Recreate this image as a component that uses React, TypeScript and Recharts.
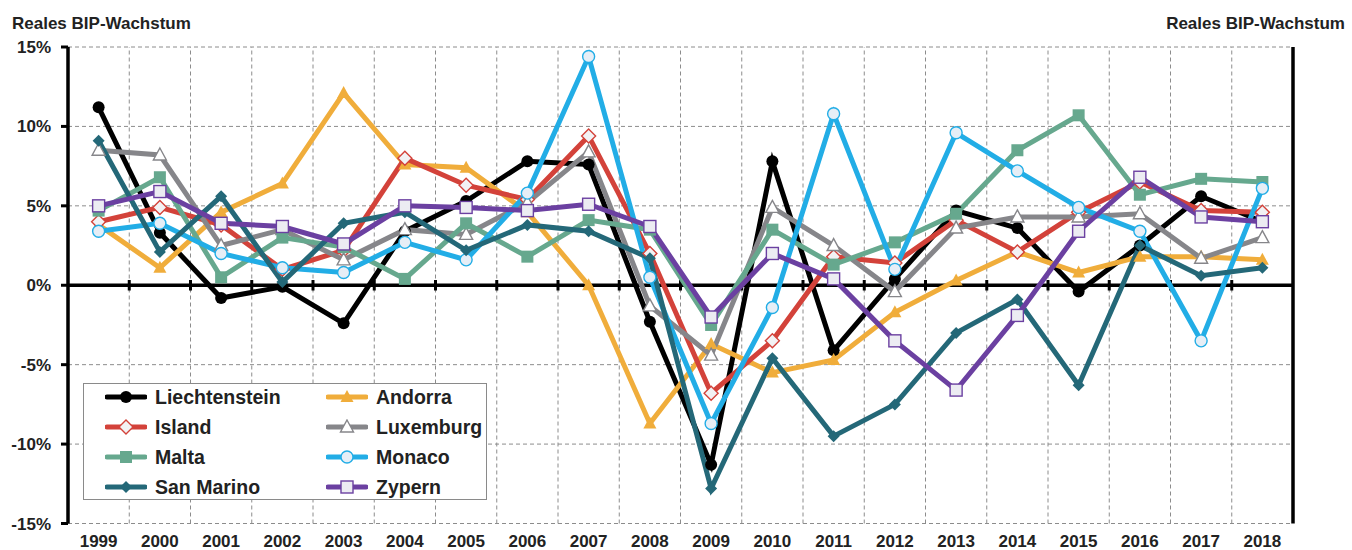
import { ComposedChart, Line, XAxis, YAxis, CartesianGrid, ReferenceLine } from "recharts";

const years = ["1999", "2000", "2001", "2002", "2003", "2004", "2005", "2006", "2007", "2008", "2009", "2010", "2011", "2012", "2013", "2014", "2015", "2016", "2017", "2018"];

const liechtenstein = [11.2, 3.3, -0.8, -0.1, -2.4, 3.4, 5.3, 7.8, 7.6, -2.3, -11.3, 7.8, -4.1, 0.4, 4.7, 3.6, -0.4, 2.5, 5.6, 4.0];
const andorra = [3.8, 1.1, 4.6, 6.4, 12.1, 7.6, 7.4, 4.6, 0.0, -8.7, -3.7, -5.5, -4.7, -1.7, 0.3, 2.1, 0.8, 1.8, 1.8, 1.6];
const island = [4.0, 4.9, 3.8, 1.0, 2.2, 8.0, 6.3, 5.4, 9.4, 2.0, -6.8, -3.5, 1.8, 1.4, 4.1, 2.1, 4.6, 6.5, 4.7, 4.6];
const luxemburg = [8.5, 8.2, 2.5, 3.5, 1.6, 3.5, 3.2, 5.2, 8.4, -1.3, -4.4, 4.9, 2.5, -0.4, 3.6, 4.3, 4.3, 4.5, 1.7, 3.0];
const malta = [4.7, 6.8, 0.5, 3.0, 2.4, 0.4, 3.9, 1.8, 4.1, 3.5, -2.5, 3.5, 1.3, 2.7, 4.5, 8.5, 10.7, 5.7, 6.7, 6.5];
const monaco = [3.4, 3.9, 2.0, 1.1, 0.8, 2.7, 1.6, 5.8, 14.4, 0.5, -8.7, -1.4, 10.8, 1.0, 9.6, 7.2, 4.9, 3.4, -3.5, 6.1];
const sanMarino = [9.1, 2.1, 5.6, 0.2, 3.9, 4.6, 2.2, 3.8, 3.4, 1.7, -12.8, -4.6, -9.5, -7.5, -3.0, -0.9, -6.3, 2.5, 0.6, 1.1];
const zypern = [5.0, 5.9, 3.9, 3.7, 2.6, 5.0, 4.9, 4.7, 5.1, 3.7, -2.0, 2.0, 0.4, -3.5, -6.6, -1.9, 3.4, 6.8, 4.3, 4.0];

const yTicks = [-15, -10, -5, 0, 5, 10, 15];

type Shape = "circle" | "triangle" | "diamond" | "square";

const series: { key: string; values: number[]; color: string; shape: Shape; fill: string }[] = [
  { key: "Liechtenstein", values: liechtenstein, color: "#000000", shape: "circle", fill: "#000000" },
  { key: "Andorra", values: andorra, color: "#F0AD3B", shape: "triangle", fill: "#F0AD3B" },
  { key: "Island", values: island, color: "#D3423A", shape: "diamond", fill: "#F2F2F4" },
  { key: "Luxemburg", values: luxemburg, color: "#86868A", shape: "triangle", fill: "#FFFFFF" },
  { key: "Malta", values: malta, color: "#66A88E", shape: "square", fill: "#66A88E" },
  { key: "Monaco", values: monaco, color: "#22ADE6", shape: "circle", fill: "#E6EEF6" },
  { key: "San Marino", values: sanMarino, color: "#246878", shape: "diamond", fill: "#246878" },
  { key: "Zypern", values: zypern, color: "#6B40A1", shape: "square", fill: "#ECECF2" },
];

// one row per year, x position = index
const data = years.map((year, i) => {
  const row: Record<string, string | number> = { idx: i, year };
  series.forEach((s) => (row[s.key] = s.values[i]));
  return row;
});

const X_MIN = -0.5;
const X_MAX = years.length - 0.5;

// category boundaries (between the years): vertical grid lines and the tick marks on the 0 line
const boundaries = years.slice(1).map((_, i) => i + 0.5);

const FONT = "'Liberation Sans', Arial, sans-serif";
const TEXT = "#222222";

function Marker({ cx, cy, shape, color, fill }: { cx: number; cy: number; shape: Shape; color: string; fill: string }) {
  const sw = fill === color ? 0 : 1.4;
  if (shape === "circle") return <circle cx={cx} cy={cy} r={6} fill={fill} stroke={color} strokeWidth={sw} />;
  if (shape === "square") return <rect x={cx - 6} y={cy - 6} width={12} height={12} fill={fill} stroke={color} strokeWidth={sw} />;
  if (shape === "diamond") {
    const h = fill === color ? 6 : 7;
    return <polygon points={`${cx},${cy - h} ${cx + h},${cy} ${cx},${cy + h} ${cx - h},${cy}`} fill={fill} stroke={color} strokeWidth={sw} />;
  }
  return <polygon points={`${cx},${cy - 7} ${cx + 6.5},${cy + 5} ${cx - 6.5},${cy + 5}`} fill={fill} stroke={color} strokeWidth={sw} />;
}

export default function App() {
  return (
    <div style={{ position: "absolute", left: 0, top: 0, width: 1352, height: 550, background: "#fff", fontFamily: FONT }}>
      <ComposedChart width={1352} height={550} data={data} margin={{ top: 47, right: 0, bottom: 0, left: 0 }}>
        <XAxis
          dataKey="idx"
          type="number"
          domain={[X_MIN, X_MAX]}
          ticks={years.map((_, i) => i)}
          tickFormatter={(i: number) => years[i]}
          height={26.5}
          axisLine={false}
          tickLine={false}
          tickSize={0}
          tickMargin={11}
          interval={0}
          tick={{ fontSize: 17, fontWeight: 700, fill: TEXT, fontFamily: FONT }}
        />
        <YAxis
          yAxisId="left"
          domain={[-15, 15]}
          ticks={yTicks}
          width={68}
          tickFormatter={(v: number) => `${v}%`}
          axisLine={{ stroke: "#000", strokeWidth: 3.5 }}
          tickLine={{ stroke: "#000", strokeWidth: 3 }}
          tickSize={7}
          tickMargin={10}
          tick={{ fontSize: 17, fontWeight: 700, fill: TEXT, fontFamily: FONT }}
        />
        <YAxis
          yAxisId="right"
          orientation="right"
          domain={[-15, 15]}
          ticks={yTicks}
          width={59}
          tickFormatter={(v: number) => `${v}%`}
          axisLine={{ stroke: "#000", strokeWidth: 3.5 }}
          tickLine={{ stroke: "#000", strokeWidth: 3 }}
          tickSize={7}
          tickMargin={10}
          tick={{ fontSize: 17, fontWeight: 700, fill: TEXT, fontFamily: FONT }}
        />
        <CartesianGrid yAxisId="left" vertical={false} stroke="#8c8c8c" strokeDasharray="4 3" strokeWidth={1} />
        {boundaries.map((b) => (
          <ReferenceLine key={`g${b}`} yAxisId="left" x={b} stroke="#8c8c8c" strokeDasharray="4 3" strokeWidth={1} />
        ))}
        <ReferenceLine yAxisId="left" y={0} stroke="#000" strokeWidth={3.5} />
        {boundaries.map((b) => (
          <ReferenceLine
            key={`t${b}`}
            yAxisId="left"
            segment={[
              { x: b, y: -0.33 },
              { x: b, y: 0.33 },
            ]}
            stroke="#000"
            strokeWidth={3}
          />
        ))}
        {series.map((s) => (
          <Line
            key={s.key}
            yAxisId="left"
            dataKey={s.key}
            type="linear"
            stroke={s.color}
            strokeWidth={5}
            isAnimationActive={false}
            activeDot={false}
            dot={(p: any) => <Marker key={`${s.key}-${p.index}`} cx={p.cx} cy={p.cy} shape={s.shape} color={s.color} fill={s.fill} />}
          />
        ))}
      </ComposedChart>

      <div style={{ position: "absolute", left: 12, top: 15, fontSize: 17, fontWeight: 700, color: TEXT, lineHeight: "17px", whiteSpace: "nowrap" }}>
        Reales BIP-Wachstum
      </div>
      <div style={{ position: "absolute", right: 7, top: 15, fontSize: 17, fontWeight: 700, color: TEXT, lineHeight: "17px", whiteSpace: "nowrap" }}>
        Reales BIP-Wachstum
      </div>

      <div
        style={{
          position: "absolute",
          left: 83,
          top: 383,
          width: 404,
          height: 117,
          boxSizing: "border-box",
          border: "1.5px solid #8a8a8a",
          background: "#fff",
        }}
      />
      {series.map((s, i) => {
        const col = i % 2;
        const row = Math.floor(i / 2);
        return (
          <div
            key={s.key}
            style={{
              position: "absolute",
              left: col === 0 ? 105 : 326,
              top: 397 + row * 30 - 12,
              height: 24,
              display: "flex",
              alignItems: "center",
              whiteSpace: "nowrap",
            }}
          >
            <svg width={42} height={16} style={{ display: "block" }}>
              <line x1={2} x2={40} y1={8} y2={8} stroke={s.color} strokeWidth={5} strokeLinecap="round" />
              <Marker cx={21} cy={8} shape={s.shape} color={s.color} fill={s.fill} />
            </svg>
            <span style={{ marginLeft: 8, fontSize: 19.5, fontWeight: 700, color: TEXT, lineHeight: "24px" }}>{s.key}</span>
          </div>
        );
      })}
    </div>
  );
}
